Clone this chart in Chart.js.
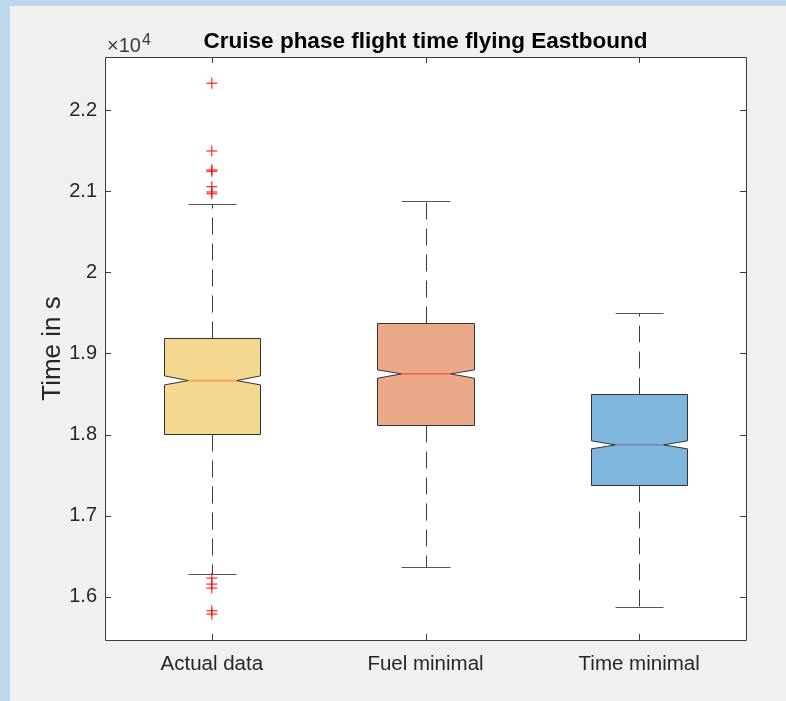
<!DOCTYPE html>
<html>
<head>
<meta charset="utf-8">
<script src="https://cdn.jsdelivr.net/npm/chart.js@4"></script>
<style>
  html, body { margin: 0; padding: 0; background: #bdd7ee; overflow: hidden; }
  #panel { position: absolute; left: 10px; top: 6px; width: 776px; height: 695px; background: #f0f0f0; }
  #wrap { position: absolute; left: 0; top: 0; width: 786px; height: 701px; }
</style>
</head>
<body>
<div id="panel"></div>
<div id="wrap"><canvas id="chart" width="786" height="701"></canvas></div>
<script>
// Cruise phase flight time statistics (seconds)
const categories   = ['Actual data', 'Fuel minimal', 'Time minimal'];
const whiskerLow   = [16286, 16372, 15879];
const q1           = [18010, 18121, 17382];
const median       = [18666, 18749, 17874];
const q3           = [19186, 19373, 18499];
const whiskerHigh  = [20842, 20879, 19504];
const notchLow     = [18613, 18695, 17825];
const notchHigh    = [18724, 18798, 17924];
// outliers of the recorded flights
const outliersActual = [22330, 21495, 21262, 21245, 21055, 20990, 20968,
                        16233, 16159, 16110, 15830, 15790];
const yTicks = [16000, 17000, 18000, 19000, 20000, 21000, 22000];

const boxFill     = ['#f5d88f', '#eba98a', '#7fb6de'];
const medianColor = ['#f5a050', '#f06a4e', '#7f86c4'];
const axisColor   = '#3c3c3c';
const textColor   = '#262626';
const FONT = "'Liberation Sans', Arial, Helvetica, sans-serif";

const BOX_WIDTH = 0.45;   // in category units
const CAP_WIDTH = 0.225;

const boxPlugin = {
  id: 'notchedBoxes',
  beforeDraw(chart) {
    const { ctx, chartArea: a } = chart;
    ctx.save();
    ctx.fillStyle = '#ffffff';
    ctx.fillRect(a.left, a.top, a.right - a.left, a.bottom - a.top);
    ctx.restore();
  },
  beforeDatasetsDraw(chart) {
    const { ctx, scales: { x, y } } = chart;
    const px = v => Math.round(v) + 0.5;
    ctx.save();
    categories.forEach((c, i) => {
      const cx = x.getPixelForValue(i + 1);
      const half = x.getPixelForValue(1 + BOX_WIDTH / 2) - x.getPixelForValue(1);
      const capHalf = x.getPixelForValue(1 + CAP_WIDTH / 2) - x.getPixelForValue(1);
      const inset = half / 2;
      const L = px(cx - half), R = px(cx + half), X = px(cx);
      const yQ3 = px(y.getPixelForValue(q3[i]));
      const yQ1 = px(y.getPixelForValue(q1[i]));
      const yMed = y.getPixelForValue(median[i]);
      const yNH = y.getPixelForValue(notchHigh[i]);
      const yNL = y.getPixelForValue(notchLow[i]);
      const yWH = px(y.getPixelForValue(whiskerHigh[i]));
      const yWL = px(y.getPixelForValue(whiskerLow[i]));

      // whiskers, dashed from the box outward
      ctx.strokeStyle = axisColor;
      ctx.lineWidth = 1;
      ctx.setLineDash([17, 9]);
      ctx.beginPath(); ctx.moveTo(X, yQ3); ctx.lineTo(X, yWH); ctx.stroke();
      ctx.beginPath(); ctx.moveTo(X, yQ1); ctx.lineTo(X, yWL); ctx.stroke();
      ctx.setLineDash([]);
      // caps
      ctx.strokeStyle = '#555555';
      ctx.beginPath();
      ctx.moveTo(px(cx - capHalf), yWH); ctx.lineTo(px(cx + capHalf), yWH);
      ctx.moveTo(px(cx - capHalf), yWL); ctx.lineTo(px(cx + capHalf), yWL);
      ctx.stroke();

      // notched box
      ctx.beginPath();
      ctx.moveTo(L, yQ3);
      ctx.lineTo(R, yQ3);
      ctx.lineTo(R, yNH);
      ctx.lineTo(R - inset, yMed);
      ctx.lineTo(R, yNL);
      ctx.lineTo(R, yQ1);
      ctx.lineTo(L, yQ1);
      ctx.lineTo(L, yNL);
      ctx.lineTo(L + inset, yMed);
      ctx.lineTo(L, yNH);
      ctx.closePath();
      ctx.fillStyle = boxFill[i];
      ctx.fill();
      ctx.strokeStyle = '#333333';
      ctx.lineWidth = 1;
      ctx.stroke();

      // median
      ctx.strokeStyle = medianColor[i];
      ctx.lineWidth = 1.6;
      ctx.beginPath();
      ctx.moveTo(L + inset, yMed); ctx.lineTo(R - inset, yMed);
      ctx.stroke();
    });
    ctx.restore();
  },
  afterDraw(chart) {
    const { ctx, chartArea: a, scales: { x, y } } = chart;
    const px = v => Math.round(v) + 0.5;
    const T = 6;
    ctx.save();
    ctx.strokeStyle = axisColor;
    ctx.lineWidth = 1;
    ctx.beginPath();
    ctx.rect(px(a.left), px(a.top), Math.round(a.right) - Math.round(a.left), Math.round(a.bottom) - Math.round(a.top));
    x.ticks.forEach(t => {
      const xx = px(x.getPixelForValue(t.value));
      ctx.moveTo(xx, a.top); ctx.lineTo(xx, a.top + T);
      ctx.moveTo(xx, a.bottom); ctx.lineTo(xx, a.bottom - T);
    });
    y.ticks.forEach(t => {
      const yy = px(y.getPixelForValue(t.value));
      ctx.moveTo(a.left, yy); ctx.lineTo(a.left + T, yy);
      ctx.moveTo(a.right, yy); ctx.lineTo(a.right - T, yy);
    });
    ctx.stroke();

    // exponent label of the y axis
    ctx.fillStyle = '#3a3a3a';
    ctx.textBaseline = 'alphabetic';
    ctx.textAlign = 'left';
    ctx.font = `20px ${FONT}`;
    ctx.fillText('\u00d710', a.left + 2, a.top - 5);
    const w = ctx.measureText('\u00d710').width;
    ctx.font = `16px ${FONT}`;
    ctx.fillText('4', a.left + 3 + w, a.top - 12);
    ctx.restore();
  }
};

new Chart(document.getElementById('chart'), {
  type: 'scatter',
  data: {
    datasets: [{
      label: 'Outliers',
      data: outliersActual.map(v => ({ x: 1, y: v })),
      pointStyle: 'cross',
      radius: 5.5,
      borderColor: '#ff0000',
      backgroundColor: '#ff0000',
      borderWidth: 1,
      hoverRadius: 5.5
    }]
  },
  options: {
    responsive: false,
    animation: false,
    devicePixelRatio: 1,
    layout: { padding: { left: 0, right: 40, top: 0, bottom: 0 } },
    plugins: {
      legend: { display: false },
      tooltip: { enabled: false },
      title: {
        display: true,
        text: 'Cruise phase flight time flying Eastbound',
        fullSize: false,
        color: '#000000',
        font: { family: FONT, size: 22.5, weight: 'bold', lineHeight: 1.2 },
        padding: { top: 28, bottom: 2 }
      }
    },
    scales: {
      x: {
        type: 'linear',
        min: 0.5,
        max: 3.5,
        grid: { display: false, drawTicks: false },
        border: { display: false },
        afterBuildTicks: s => { s.ticks = categories.map((c, i) => ({ value: i + 1 })); },
        afterFit: s => { s.height = 61; },
        ticks: {
          padding: 12,
          color: textColor,
          font: { family: FONT, size: 20.5 },
          callback: v => categories[v - 1],
          maxRotation: 0
        }
      },
      y: {
        min: 15470,
        max: 22653,
        grid: { display: false, drawTicks: false },
        border: { display: false },
        afterBuildTicks: s => { s.ticks = yTicks.map(v => ({ value: v })); },
        afterFit: s => { s.width = 105; },
        ticks: {
          padding: 8,
          color: textColor,
          font: { family: FONT, size: 20 },
          callback: v => String(v / 10000)
        },
        title: {
          display: true,
          text: 'Time in s',
          color: textColor,
          font: { family: FONT, size: 26, lineHeight: 1.2 },
          padding: { top: 37, bottom: 0 }
        }
      }
    }
  },
  plugins: [boxPlugin]
});
</script>
</body>
</html>
